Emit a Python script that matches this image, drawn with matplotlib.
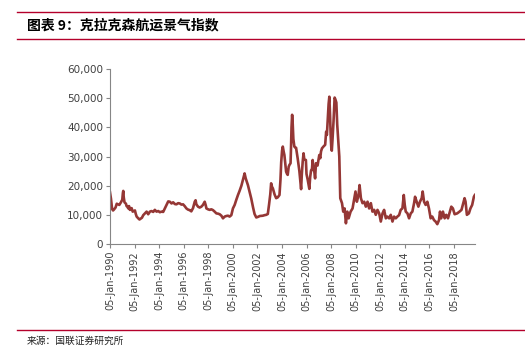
import matplotlib
matplotlib.use("Agg")
import matplotlib.pyplot as plt
from matplotlib.lines import Line2D
from matplotlib.ticker import FuncFormatter

plt.rcParams['font.family'] = ['Noto Sans CJK SC', 'DejaVu Sans']

# Clarksea index (decimal year, USD/day)
years = [
    1990.00, 1990.08, 1990.17, 1990.25, 1990.32, 1990.45, 1990.55, 1990.65, 1990.76, 1990.89,
    1991.00, 1991.05, 1991.08, 1991.12, 1991.18, 1991.30, 1991.35, 1991.41, 1991.49, 1991.55,
    1991.62, 1991.76, 1991.85, 1992.03, 1992.10, 1992.17, 1992.30, 1992.40, 1992.50, 1992.60,
    1992.71, 1992.84, 1992.98, 1993.11, 1993.25, 1993.38, 1993.52, 1993.65, 1993.79, 1993.93,
    1994.06, 1994.20, 1994.33, 1994.47, 1994.60, 1994.74, 1994.87, 1995.01, 1995.14, 1995.28,
    1995.41, 1995.55, 1995.68, 1995.82, 1995.95, 1996.08, 1996.22, 1996.35, 1996.49, 1996.62,
    1996.76, 1996.90, 1996.97, 1997.03, 1997.17, 1997.30, 1997.44, 1997.57, 1997.71, 1997.80,
    1997.85, 1997.98, 1998.12, 1998.25, 1998.39, 1998.52, 1998.66, 1998.80, 1998.93, 1999.07,
    1999.20, 1999.34, 1999.47, 1999.61, 1999.74, 1999.88, 2000.01, 2000.15, 2000.28, 2000.42,
    2000.55, 2000.70, 2000.85, 2000.96, 2001.05, 2001.23, 2001.36, 2001.50, 2001.65, 2001.77,
    2001.91, 2002.05, 2002.20, 2002.44, 2002.60, 2002.72, 2002.85, 2002.95, 2003.05, 2003.12,
    2003.20, 2003.26, 2003.40, 2003.53, 2003.66, 2003.80, 2003.88, 2003.94, 2004.01, 2004.07,
    2004.14, 2004.20, 2004.34, 2004.42, 2004.47, 2004.55, 2004.61, 2004.70, 2004.74, 2004.78,
    2004.83, 2004.88, 2004.93, 2005.01, 2005.08, 2005.15, 2005.28, 2005.42, 2005.56, 2005.62,
    2005.69, 2005.76, 2005.82, 2005.95, 2006.00, 2006.10, 2006.23, 2006.30, 2006.37, 2006.45,
    2006.50, 2006.58, 2006.64, 2006.70, 2006.77, 2006.90, 2006.98, 2007.04, 2007.12, 2007.18,
    2007.26, 2007.40, 2007.52, 2007.60, 2007.66, 2007.72, 2007.80, 2007.86, 2007.92, 2007.97,
    2008.02, 2008.06, 2008.12, 2008.20, 2008.29, 2008.35, 2008.43, 2008.50, 2008.58, 2008.67,
    2008.75, 2008.89, 2008.99, 2009.10, 2009.21, 2009.32, 2009.43, 2009.59, 2009.75, 2009.89,
    2009.99, 2010.10, 2010.24, 2010.32, 2010.43, 2010.56, 2010.70, 2010.83, 2010.97, 2011.10,
    2011.24, 2011.37, 2011.51, 2011.64, 2011.78, 2011.92, 2012.05, 2012.19, 2012.32, 2012.46,
    2012.59, 2012.73, 2012.86, 2013.00, 2013.13, 2013.27, 2013.40, 2013.54, 2013.67, 2013.81,
    2013.92, 2014.00, 2014.08, 2014.22, 2014.35, 2014.49, 2014.62, 2014.76, 2014.84, 2014.97,
    2015.11, 2015.24, 2015.38, 2015.46, 2015.57, 2015.70, 2015.84, 2015.97, 2016.11, 2016.24,
    2016.38, 2016.51, 2016.65, 2016.79, 2016.87, 2016.97, 2017.11, 2017.25, 2017.38, 2017.52,
    2017.68, 2017.79, 2017.92, 2018.06, 2018.27, 2018.46, 2018.62, 2018.73, 2018.87, 2018.95,
    2019.06, 2019.22, 2019.35, 2019.49, 2019.63, 2019.71,
]
clarksea = [
    17700, 15500, 12000, 11500, 11800, 12500, 13800, 13600, 13400, 14300,
    15200, 17500, 18200, 16000, 14300, 13800, 13000, 12800, 12200, 13000,
    11700, 12300, 11100, 11500, 10300, 9400, 8800, 8400, 8700, 9000,
    9900, 10500, 11100, 10200, 11100, 11300, 11000, 11700, 11100, 11300,
    10900, 11100, 11000, 12200, 13400, 14600, 14500, 13900, 14300, 13700,
    13600, 14000, 13900, 13500, 13600, 13000, 12200, 11800, 11600, 11200,
    12300, 14500, 15000, 13600, 12800, 12500, 12800, 13400, 14500, 13200,
    12200, 11900, 11700, 11900, 11600, 11100, 10500, 10400, 10200, 9700,
    8800, 9400, 9600, 9700, 9400, 9900, 12200, 13400, 15100, 16800,
    18200, 20000, 22500, 24200, 22500, 20200, 18000, 15600, 12500, 10300,
    9100, 9300, 9600, 9700, 9900, 10000, 10300, 13500, 17000, 20800,
    19500, 19100, 17000, 15700, 16000, 16800, 22000, 28000, 32000, 33400,
    31700, 30500, 24800, 24000, 23700, 26500, 27100, 27700, 33000, 40000,
    44300, 41000, 36000, 33400, 33100, 33000, 29400, 25000, 18800, 24000,
    28200, 31100, 29000, 28800, 24000, 22000, 18900, 23000, 25200, 25800,
    28800, 25400, 24700, 22500, 27700, 26900, 29000, 30500, 29400, 31700,
    32800, 33500, 34000, 38500, 37400, 42000, 48000, 50500, 44000, 37000,
    33000, 32000, 36000, 42000, 50200, 49600, 48500, 41000, 36000, 30000,
    15700, 14000, 11100, 12200, 7100, 11100, 8800, 11100, 12200, 15700,
    18000, 14500, 16800, 20200, 15700, 14000, 14500, 12800, 14500, 12200,
    14000, 11100, 11700, 10000, 11700, 10500, 7700, 10500, 11700, 8800,
    9400, 8800, 10000, 7700, 9400, 8800, 9400, 9900, 11700, 12200,
    16800, 13400, 11100, 10500, 8800, 10500, 11100, 14000, 16200, 14500,
    12800, 14500, 15700, 18000, 14500, 13400, 14500, 12200, 8800, 9400,
    8200, 7700, 6800, 8200, 11100, 8800, 11100, 8800, 10000, 8800,
    11100, 12800, 12200, 10200, 10500, 11100, 11700, 13400, 15700, 14500,
    10000, 10500, 12200, 13400, 16200, 16800,
]
tick_years = list(range(1990, 2019, 2))
tick_labels = ['05-Jan-%d' % y for y in tick_years]
y_ticks = [0, 10000, 20000, 30000, 40000, 50000, 60000]
title = '图表 9：克拉克森航运景气指数'
source = '来源：国联证券研究所'

W, H = 525, 354
fig = plt.figure(figsize=(W / 100, H / 100), dpi=100)
ax = fig.add_axes([110 / W, 110 / H, 365 / W, 175 / H])

ax.plot(years, clarksea, color='#953735', linewidth=1.9, solid_joinstyle='round')

ax.set_xlim(1990, 2019.72)
ax.set_ylim(0, 60000)
ax.set_xticks(tick_years)
ax.set_xticklabels(tick_labels, rotation=90, fontsize=7, color='#404040',
                   family=['DejaVu Sans'])
ax.set_yticks(y_ticks)
ax.yaxis.set_major_formatter(FuncFormatter(lambda v, p: '{:,.0f}'.format(v)))
for lab in ax.get_yticklabels():
    lab.set_fontsize(7.5)
    lab.set_color('#404040')
    lab.set_family(['DejaVu Sans'])

for s in ['top', 'right']:
    ax.spines[s].set_visible(False)
for s in ['left', 'bottom']:
    ax.spines[s].set_color('#868686')
    ax.spines[s].set_linewidth(0.8)
ax.tick_params(axis='both', direction='out', length=3, width=0.8, color='#868686', pad=2)

# header / footer rules run to the right edge
red = '#B4002B'
for yy in [11.5, 38.5, 330]:
    fig.add_artist(Line2D([17 / W, 1.0], [1 - yy / H, 1 - yy / H], color=red, lw=1.0))

fig.text(27 / W, 1 - 25 / H, title, fontsize=10, fontweight='bold',
         va='center', ha='left', color='black')
fig.text(27 / W, 1 - 341 / H, source, fontsize=7, va='center', ha='left', color='#222222')

fig.savefig('out.png', dpi=100)
